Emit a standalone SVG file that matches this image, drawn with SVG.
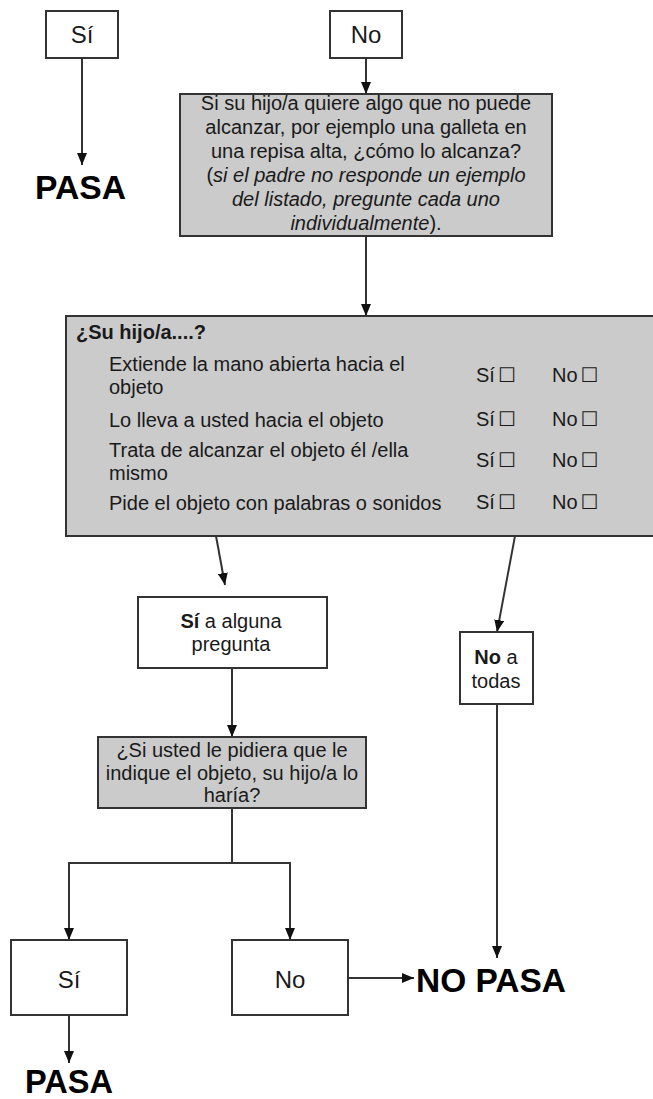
<svg xmlns="http://www.w3.org/2000/svg" width="653" height="1099" viewBox="0 0 653 1099">
  <style>
    text { font-family: "Liberation Sans", Arial, sans-serif; fill: #1a1a1a; }
    .box { fill: #ffffff; stroke: #333333; stroke-width: 2; }
    .grey { fill: #cbcbcb; stroke: #333333; stroke-width: 2; }
    .t20 { font-size: 20px; }
    .t24 { font-size: 24px; }
    .mid { text-anchor: middle; }
    .big { font-size: 33px; font-weight: bold; fill: #000000; }
    .b { font-weight: bold; }
    .i { font-style: italic; }
    .chk { font-family: "DejaVu Sans", sans-serif; font-size: 20px; }
    .conn { fill: none; stroke: #333333; stroke-width: 2; }
  </style>
  <defs>
    <marker id="arrow" viewBox="0 0 12 10" refX="12" refY="5" markerWidth="12" markerHeight="10" markerUnits="userSpaceOnUse" orient="auto">
      <path d="M0,0 L12,5 L0,10 z" fill="#111111"/>
    </marker>
  </defs>

  <g id="connectors">
    <line class="conn" x1="82" y1="58" x2="82" y2="165" marker-end="url(#arrow)"/>
    <line class="conn" x1="366" y1="58" x2="366" y2="94" marker-end="url(#arrow)"/>
    <line class="conn" x1="366" y1="236" x2="366" y2="316" marker-end="url(#arrow)"/>
    <line class="conn" x1="216" y1="536" x2="225" y2="585" marker-end="url(#arrow)"/>
    <line class="conn" x1="515" y1="536" x2="497" y2="632" marker-end="url(#arrow)"/>
    <line class="conn" x1="232" y1="668" x2="232" y2="737" marker-end="url(#arrow)"/>
    <path class="conn" d="M232,808 V863 H69 V940" marker-end="url(#arrow)"/>
    <path class="conn" d="M232,863 H290 V940" marker-end="url(#arrow)"/>
    <line class="conn" x1="497" y1="704" x2="497" y2="958" marker-end="url(#arrow)"/>
    <line class="conn" x1="69" y1="1015" x2="69" y2="1063" marker-end="url(#arrow)"/>
    <line class="conn" x1="348" y1="978" x2="414" y2="978" marker-end="url(#arrow)"/>
  </g>

  <g id="si-top">
    <rect class="box" x="46" y="11" width="72" height="47"/>
    <text class="t24 mid" x="82" y="43">Sí</text>
  </g>

  <g id="no-top">
    <rect class="box" x="330" y="11" width="72" height="47"/>
    <text class="t24 mid" x="366" y="43">No</text>
  </g>

  <g id="pasa-top">
    <text class="big" x="35" y="199" textLength="91" lengthAdjust="spacingAndGlyphs">PASA</text>
  </g>

  <g id="question-reach">
    <rect class="grey" x="180" y="94" width="372" height="142"/>
    <text class="t20 mid" x="366" y="110">Si su hijo/a quiere algo que no puede</text>
    <text class="t20 mid" x="366" y="134">alcanzar, por ejemplo una galleta en</text>
    <text class="t20 mid" x="366" y="158">una repisa alta, ¿cómo lo alcanza?</text>
    <text class="t20 mid" x="366" y="182">(<tspan class="i">si el padre no responde un ejemplo</tspan></text>
    <text class="t20 mid i" x="366" y="206">del listado, pregunte cada uno</text>
    <text class="t20 mid" x="366" y="230"><tspan class="i">individualmente</tspan>).</text>
  </g>

  <g id="checklist">
    <rect class="grey" x="66" y="316" width="600" height="220"/>
    <text class="t20 b" x="76" y="339">¿Su hijo/a....?</text>
    <text class="t20" x="109" y="371">Extiende la mano abierta hacia el</text>
    <text class="t20" x="109" y="394">objeto</text>
    <text class="t20" x="109" y="427">Lo lleva a usted hacia el objeto</text>
    <text class="t20" x="109" y="457">Trata de alcanzar el objeto él /ella</text>
    <text class="t20" x="109" y="480">mismo</text>
    <text class="t20" x="109" y="510">Pide el objeto con palabras o sonidos</text>
    <text class="t20" x="476" y="382">Sí<tspan class="chk" dx="3">☐</tspan></text>
    <text class="t20" x="552" y="382">No<tspan class="chk" dx="3">☐</tspan></text>
    <text class="t20" x="476" y="426">Sí<tspan class="chk" dx="3">☐</tspan></text>
    <text class="t20" x="552" y="426">No<tspan class="chk" dx="3">☐</tspan></text>
    <text class="t20" x="476" y="467">Sí<tspan class="chk" dx="3">☐</tspan></text>
    <text class="t20" x="552" y="467">No<tspan class="chk" dx="3">☐</tspan></text>
    <text class="t20" x="476" y="509">Sí<tspan class="chk" dx="3">☐</tspan></text>
    <text class="t20" x="552" y="509">No<tspan class="chk" dx="3">☐</tspan></text>
  </g>

  <g id="si-alguna">
    <rect class="box" x="138" y="597" width="189" height="71"/>
    <text class="t20 mid" x="231" y="628"><tspan class="b">Sí</tspan> a alguna</text>
    <text class="t20 mid" x="231" y="651">pregunta</text>
  </g>

  <g id="no-todas">
    <rect class="box" x="460" y="632" width="73" height="72"/>
    <text class="t20 mid" x="496" y="664"><tspan class="b">No</tspan> a</text>
    <text class="t20 mid" x="496" y="688">todas</text>
  </g>

  <g id="question-point">
    <rect class="grey" x="98" y="737" width="268" height="71"/>
    <text class="t20 mid" x="232" y="757">¿Si usted le pidiera que le</text>
    <text class="t20 mid" x="232" y="780">indique el objeto, su hijo/a lo</text>
    <text class="t20 mid" x="232" y="802">haría?</text>
  </g>

  <g id="si-bottom">
    <rect class="box" x="11" y="940" width="116" height="75"/>
    <text class="t24 mid" x="69" y="988">Sí</text>
  </g>

  <g id="no-bottom">
    <rect class="box" x="232" y="940" width="116" height="75"/>
    <text class="t24 mid" x="290" y="988">No</text>
  </g>

  <g id="pasa-bottom">
    <text class="big" x="25" y="1093" textLength="88" lengthAdjust="spacingAndGlyphs">PASA</text>
  </g>

  <g id="no-pasa">
    <text class="big" x="416" y="992" textLength="150" lengthAdjust="spacingAndGlyphs">NO PASA</text>
  </g>
</svg>
